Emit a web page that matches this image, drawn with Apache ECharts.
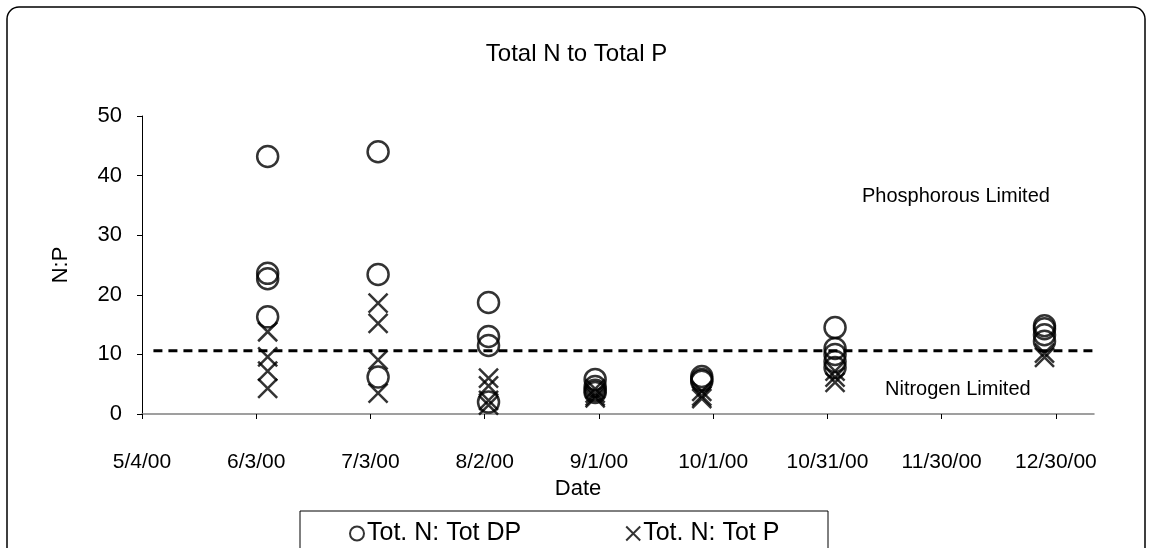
<!DOCTYPE html>
<html>
<head>
<meta charset="utf-8">
<script src="https://cdn.jsdelivr.net/npm/echarts@6/dist/echarts.min.js"></script>
<style>
  html, body { margin: 0; padding: 0; background: #fff; }
  #chart { width: 1153px; height: 548px; }
</style>
</head>
<body>
<div id="chart"></div>
<script>
// Data
var startDate = '2000-05-04';
var endDate = '2001-01-09';

var dpDates = [
    '2000-06-06', '2000-06-06', '2000-06-06', '2000-06-06',
    '2000-07-05', '2000-07-05', '2000-07-05',
    '2000-08-03', '2000-08-03', '2000-08-03', '2000-08-03',
    '2000-08-31', '2000-08-31', '2000-08-31', '2000-08-31',
    '2000-09-28', '2000-09-28', '2000-09-28',
    '2000-11-02', '2000-11-02', '2000-11-02', '2000-11-02', '2000-11-02',
    '2000-12-27', '2000-12-27', '2000-12-27', '2000-12-27'
];
var dpValues = [
    43.2, 23.6, 22.7, 16.3,
    44.0, 23.4, 6.2,
    18.7, 13.0, 11.5, 2.0,
    5.8, 4.6, 4.0, 3.6,
    6.3, 5.8, 5.5,
    14.5, 11.0, 10.0, 8.8, 7.8,
    14.8, 14.3, 13.3, 12.2
];

var tpDates = [
    '2000-06-06', '2000-06-06', '2000-06-06', '2000-06-06',
    '2000-07-05', '2000-07-05', '2000-07-05', '2000-07-05',
    '2000-08-03', '2000-08-03', '2000-08-03', '2000-08-03',
    '2000-08-31', '2000-08-31', '2000-08-31', '2000-08-31',
    '2000-09-28', '2000-09-28', '2000-09-28',
    '2000-11-02', '2000-11-02', '2000-11-02',
    '2000-12-27', '2000-12-27'
];
var tpValues = [
    13.8, 9.6, 7.2, 4.3,
    18.6, 15.2, 9.1, 3.5,
    6.0, 4.7, 2.3, 1.5,
    4.2, 3.5, 3.0, 2.7,
    3.8, 3.0, 2.6,
    7.2, 6.2, 5.3,
    10.2, 9.5
];

// Dashed N:P threshold line
var limitDates = ['2000-05-07', '2001-01-09'];
var limitValues = [10.6, 10.6];

var seriesNames = ['Tot. N: Tot DP', 'Tot. N: Tot P'];

// x axis runs in days counted from the first tick date
var DAY = 24 * 3600 * 1000;
function dayOf(s) {
    return Math.round((Date.parse(s) - Date.parse(startDate)) / DAY);
}
function dayLabel(d) {
    var t = new Date(Date.parse(startDate) + d * DAY);
    return (t.getUTCMonth() + 1) + '/' + t.getUTCDate() + '/' +
        String(t.getUTCFullYear()).slice(2);
}
function pairs(dates, values) {
    return dates.map(function (d, i) { return [dayOf(d), values[i]]; });
}

var crossPath = 'path://M0,0L20,20M20,0L0,20';
var font = 'Liberation Sans, Arial, sans-serif';

var chart = echarts.init(document.getElementById('chart'));

chart.setOption({
    animation: false,
    backgroundColor: '#fff',
    textStyle: { fontFamily: font, color: '#000' },
    title: {
        text: 'Total N to Total P',
        left: 'center',
        top: 37,
        textStyle: { fontFamily: font, fontSize: 24, fontWeight: 'normal', color: '#000' }
    },
    grid: { left: 142, right: 59, top: 116, bottom: 134 },
    xAxis: {
        type: 'value',
        min: 0,
        max: dayOf(endDate),
        interval: 30,
        name: 'Date',
        nameLocation: 'middle',
        nameGap: 62,
        nameTextStyle: { fontSize: 22, color: '#000', padding: [0, 80, 0, 0] },
        splitLine: { show: false },
        axisLine: { lineStyle: { color: '#808080', width: 1.5 } },
        axisTick: { length: 5, lineStyle: { color: '#000' } },
        axisLabel: {
            fontSize: 21,
            color: '#000',
            margin: 38,
            formatter: function (v) { return dayLabel(v); }
        }
    },
    yAxis: {
        type: 'value',
        min: 0,
        max: 50,
        interval: 10,
        name: 'N:P',
        nameLocation: 'middle',
        nameGap: 70,
        nameRotate: 90,
        nameTextStyle: { fontSize: 22, color: '#000' },
        splitLine: { show: false },
        axisLine: { show: true, lineStyle: { color: '#000', width: 1 } },
        axisTick: { show: true, length: 5, lineStyle: { color: '#000' } },
        axisLabel: { fontSize: 22, color: '#000', margin: 20 }
    },
    legend: {
        data: seriesNames,
        left: 344,
        top: 516,
        itemWidth: 14,
        itemHeight: 14,
        itemGap: 104,
        textStyle: { fontSize: 25, color: '#000', padding: [0, 0, 0, -2] },
        itemStyle: { color: 'transparent', borderColor: '#000', borderWidth: 2 }
    },
    series: [
        {
            name: seriesNames[0],
            type: 'scatter',
            symbol: 'circle',
            symbolSize: 21,
            itemStyle: { color: 'transparent', borderColor: '#000', borderWidth: 2.5 },
            data: pairs(dpDates, dpValues),
            z: 3
        },
        {
            name: seriesNames[1],
            type: 'scatter',
            symbol: crossPath,
            symbolSize: 19,
            itemStyle: { color: 'transparent', borderColor: '#000', borderWidth: 2.5 },
            data: pairs(tpDates, tpValues),
            z: 3
        },
        {
            name: 'limit',
            type: 'line',
            symbol: 'none',
            silent: true,
            lineStyle: { color: '#000', width: 3, type: [9, 6] },
            data: pairs(limitDates, limitValues),
            z: 2
        }
    ],
    graphic: [
        {
            type: 'rect',
            shape: { x: 7, y: 7, width: 1138, height: 600, r: 12 },
            style: { fill: 'none', stroke: '#000', lineWidth: 1.5 },
            silent: true,
            z: -1
        },
        {
            type: 'rect',
            shape: { x: 300, y: 511, width: 528, height: 60 },
            style: { fill: '#fff', stroke: '#000', lineWidth: 1 },
            silent: true,
            z: -1
        },
        {
            type: 'text',
            left: 862,
            top: 186,
            style: { text: 'Phosphorous Limited', font: '20px ' + font, fill: '#000' }
        },
        {
            type: 'text',
            left: 885,
            top: 379,
            style: { text: 'Nitrogen Limited', font: '20px ' + font, fill: '#000' }
        }
    ]
});
</script>
</body>
</html>
